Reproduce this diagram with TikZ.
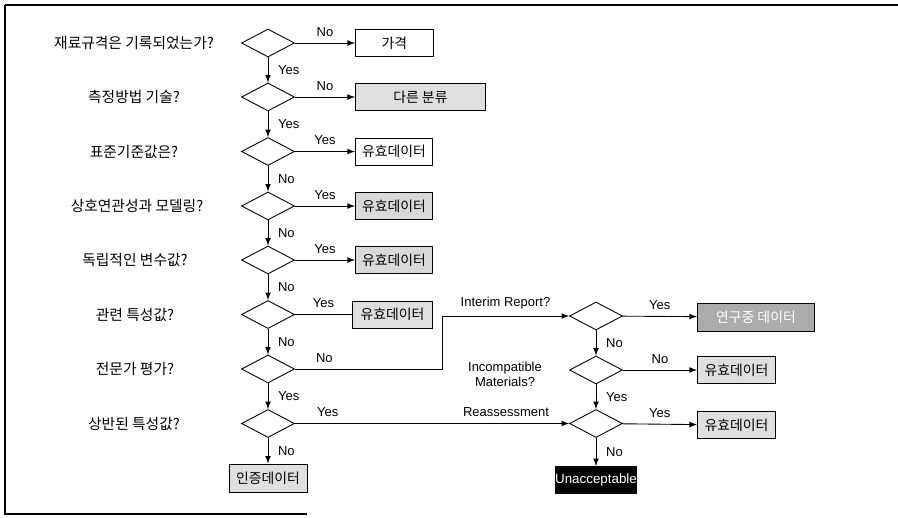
\documentclass[tikz,border=0pt]{standalone}
\usepackage{fontspec}
\setmainfont{Liberation Sans}
\newfontfamily\kr{Noto Sans CJK KR}
\usetikzlibrary{shapes.geometric}

\tikzset{
    ask/.style={shape=diamond,draw,minimum width=1.06cm,minimum height=0.56cm,inner sep=0pt},
    outbox/.style={draw,minimum height=0.54cm,minimum width=1.56cm,inner sep=1pt,font=\kr\fontsize{7.9}{9}\selectfont},
    lbl/.style={font=\fontsize{7.4}{8.5}\selectfont,inner sep=1.5pt},
}

\begin{document}
\begin{tikzpicture}[x=0.02cm,y=-0.02cm,>=latex,line width=0.5pt]
\useasboundingbox (0,0) rectangle (898,517);

% frame
\draw[line width=1.1pt] (5,5) -- (898,5);
\draw[line width=0.8pt] (5,5) -- (5,514) -- (307,514);

% questions on the left
\begin{scope}[every node/.style={font=\kr\fontsize{8.4}{10}\selectfont}]
    \node (q1) at (134,43) {재료규격은 기록되었는가?};
    \node (q2) at (134,97) {측정방법 기술?};
    \node (q3) at (134,151.5) {표준기준값은?};
    \node (q4) at (137,206) {상호연관성과 모델링?};
    \node (q5) at (135,260) {독립적인 변수값?};
    \node (q6) at (135,314.5) {관련 특성값?};
    \node (q7) at (135,369) {전문가 평가?};
    \node (q8) at (134,423.5) {상반된 특성값?};
\end{scope}

\begin{scope}[every node/.style={ask}]
    \node (d1) at (268,43) {};
    \node (d2) at (268,97) {};
    \node (d3) at (268,151.5) {};
    \node (d4) at (268,206) {};
    \node (d5) at (268,260) {};
    \node (d6) at (268,314.5) {};
    \node (d7) at (268,369) {};
    \node (d8) at (268,423.5) {};
    \node (ra) at (596,316) {};
    \node (rb) at (596,370) {};
    \node (rc) at (596,423.5) {};
\end{scope}

% outcomes
\node[outbox,anchor=west] (o1) at (355,43) {가격};
\node[outbox,anchor=west,fill=gray!25,minimum width=2.6cm] (o2) at (355,97) {다른 분류};
\node[outbox,anchor=west,minimum width=1.54cm] (o3) at (355,151.5) {유효데이터};
\node[outbox,anchor=west,fill=gray!30,minimum width=1.54cm] (o4) at (355,206) {유효데이터};
\node[outbox,anchor=west,fill=gray!30,minimum width=1.54cm] (o5) at (355,260) {유효데이터};
\node[outbox,anchor=west,fill=gray!25,minimum width=1.6cm] (o6) at (352,314.5) {유효데이터};
\node[outbox,fill=gray!25,minimum height=0.56cm] (cert) at (268,478) {인증데이터};
\node[outbox,anchor=west,fill=gray!65,text=white,minimum width=2.34cm,minimum height=0.56cm] (wip) at (697,317) {연구중 데이터};
\node[outbox,anchor=west,fill=gray!25] (vb) at (697,370) {유효데이터};
\node[outbox,anchor=west,fill=gray!25] (vc) at (697,425) {유효데이터};
\node[outbox,fill=black,text=white,inner xsep=0pt,minimum width=1.54cm,font=\fontsize{7.6}{9}\selectfont] (bad) at (596,480) {Unacceptable};

\node[lbl,align=center] (inc) at (505,374) {Incompatible\\Materials?};

% main column
\draw[->] (d1) -- node[lbl,right,xshift=4pt] {Yes} (d2);
\draw[->] (d2) -- node[lbl,right,xshift=4pt] {Yes} (d3);
\draw[->] (d3) -- node[lbl,right,xshift=4pt] {No} (d4);
\draw[->] (d4) -- node[lbl,right,xshift=4pt] {No} (d5);
\draw[->] (d5) -- node[lbl,right,xshift=4pt] {No} (d6);
\draw[->] (d6) -- node[lbl,right,xshift=4pt] {No} (d7);
\draw[->] (d7) -- node[lbl,right,xshift=4pt] {Yes} (d8);
\draw[->] (d8) -- node[lbl,right,xshift=4pt] {No} (cert);

\draw[->] (d1) -- node[lbl,above=2pt] {No} (o1);
\draw[->] (d2) -- node[lbl,above=2pt] {No} (o2);
\draw[->] (d3) -- node[lbl,above=2pt] {Yes} (o3);
\draw[->] (d4) -- node[lbl,above=2pt] {Yes} (o4);
\draw[->] (d5) -- node[lbl,above=2pt] {Yes} (o5);
\draw (d6) -- node[lbl,above=2pt] {Yes} (o6);

\coordinate (turn) at (442,369);
\draw[->] (d7) -- node[lbl,above=2pt,pos=0.2] {No} (turn) |- node[lbl,above=2pt,pos=0.75] {Interim Report?} (ra);
\draw[->] (d8) -- node[lbl,above=2pt,pos=0.12] {Yes} node[lbl,above=2pt,pos=0.77] {Reassessment} (rc);

% right column
\draw[->] (ra) -- node[lbl,above=2pt] {Yes} (wip);
\draw[->] (ra) -- node[lbl,right,xshift=4pt] {No} (rb);
\draw[->] (rb) -- node[lbl,above=2pt] {No} (vb);
\draw[->] (rb) -- node[lbl,right,xshift=4pt] {Yes} (rc);
\draw[->] (rc) -- node[lbl,above=2pt] {Yes} (vc);
\draw[->] (rc) -- node[lbl,right,xshift=4pt] {No} (bad);

\end{tikzpicture}
\end{document}
